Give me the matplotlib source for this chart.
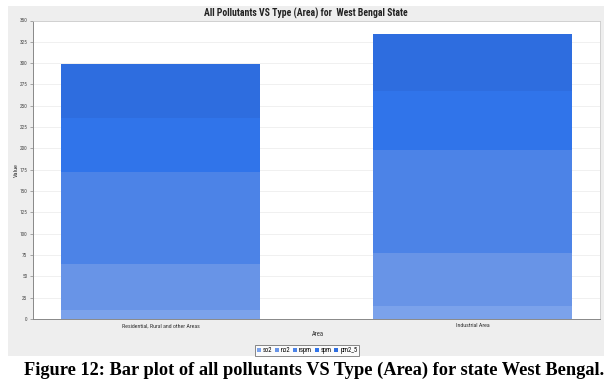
import matplotlib
matplotlib.use("Agg")
import matplotlib.pyplot as plt
import numpy as np

# data
areas = ["Residential, Rural and other Areas", "Industrial Area"]
pollutants = ["so2", "no2", "rspm", "spm", "pm2_5"]
so2 = [10.5, 15.0]
no2 = [54.5, 62.5]
rspm = [107.0, 121.0]
spm = [63.5, 69.0]
pm2_5 = [63.0, 67.0]
series = [so2, no2, rspm, spm, pm2_5]
colors = ["#7ba2eb", "#6894e7", "#4c83e7", "#3074ea", "#2e6ddf"]
y_ticks = list(range(0, 351, 25))

NARROW = ["Roboto Condensed", "DejaVu Sans"]

W, H = 613, 390
fig = plt.figure(figsize=(W / 100, H / 100), dpi=100)
fig.patch.set_facecolor("white")

# gray chart panel
panel = plt.Rectangle((8 / W, 1 - 356 / H), (604 - 8) / W, (356 - 6) / H,
                      transform=fig.transFigure, facecolor="#eeeeee",
                      edgecolor="none", zorder=-5)
fig.patches.append(panel)

ax = fig.add_axes([33 / W, 1 - 319 / H, (600 - 33) / W, (319 - 20.5) / H])
ax.set_facecolor("white")
ax.set_zorder(1)

x = np.arange(len(areas))
bottom = np.zeros(len(areas))
for name, vals, c in zip(pollutants, series, colors):
    ax.bar(x, vals, width=0.638, bottom=bottom, color=c, label=name,
           edgecolor="none", zorder=2)
    bottom += np.array(vals)

ax.set_xlim(-0.409, 1.409)
ax.set_ylim(0, 350)
ax.set_yticks(y_ticks)
ax.set_yticklabels([str(t) for t in y_ticks], fontsize=3.8, color="#444444",
                   family=NARROW)
ax.set_xticks(x)
ax.set_xticklabels(areas, fontsize=4.2, color="#333333", family=NARROW)
ax.tick_params(axis="x", length=0, pad=3)
ax.tick_params(axis="y", length=2, width=0.5, color="#888888", pad=2)
ax.grid(axis="y", color="#eeeeee", linewidth=0.6, zorder=0)
ax.set_axisbelow(True)
for side in ["top", "right"]:
    ax.spines[side].set_color("#cccccc")
    ax.spines[side].set_linewidth(0.6)
for side in ["left", "bottom"]:
    ax.spines[side].set_color("#888888")
    ax.spines[side].set_linewidth(0.7)

fig.text(306 / W, 1 - 13 / H, "All Pollutants VS Type (Area) for  West Bengal State",
         ha="center", va="center", fontsize=7, fontweight="bold", color="#222222",
         family=NARROW)
fig.text(16 / W, 1 - 170 / H, "Value", rotation=90, ha="center", va="center",
         fontsize=4.5, color="#333333", family=NARROW)
fig.text(318 / W, 1 - 335 / H, "Area", ha="center", va="center",
         fontsize=4.8, color="#333333", family=NARROW)

leg = fig.legend(loc="center", bbox_to_anchor=(307 / W, 1 - 350.5 / H), ncol=5,
                 prop={"family": NARROW, "size": 4.8}, frameon=True, fancybox=False,
                 handlelength=0.6, handleheight=0.6, handletextpad=0.3,
                 columnspacing=0.4, borderpad=0.25, edgecolor="#555555")
leg.get_frame().set_linewidth(0.6)

fig.text(314 / W, 1 - 370 / H,
         "Figure 12: Bar plot of all pollutants VS Type (Area) for state West Bengal.",
         ha="center", va="center", fontsize=13.2, fontweight="bold",
         family="Liberation Serif", color="black")

fig.savefig("out.png", dpi=100)
